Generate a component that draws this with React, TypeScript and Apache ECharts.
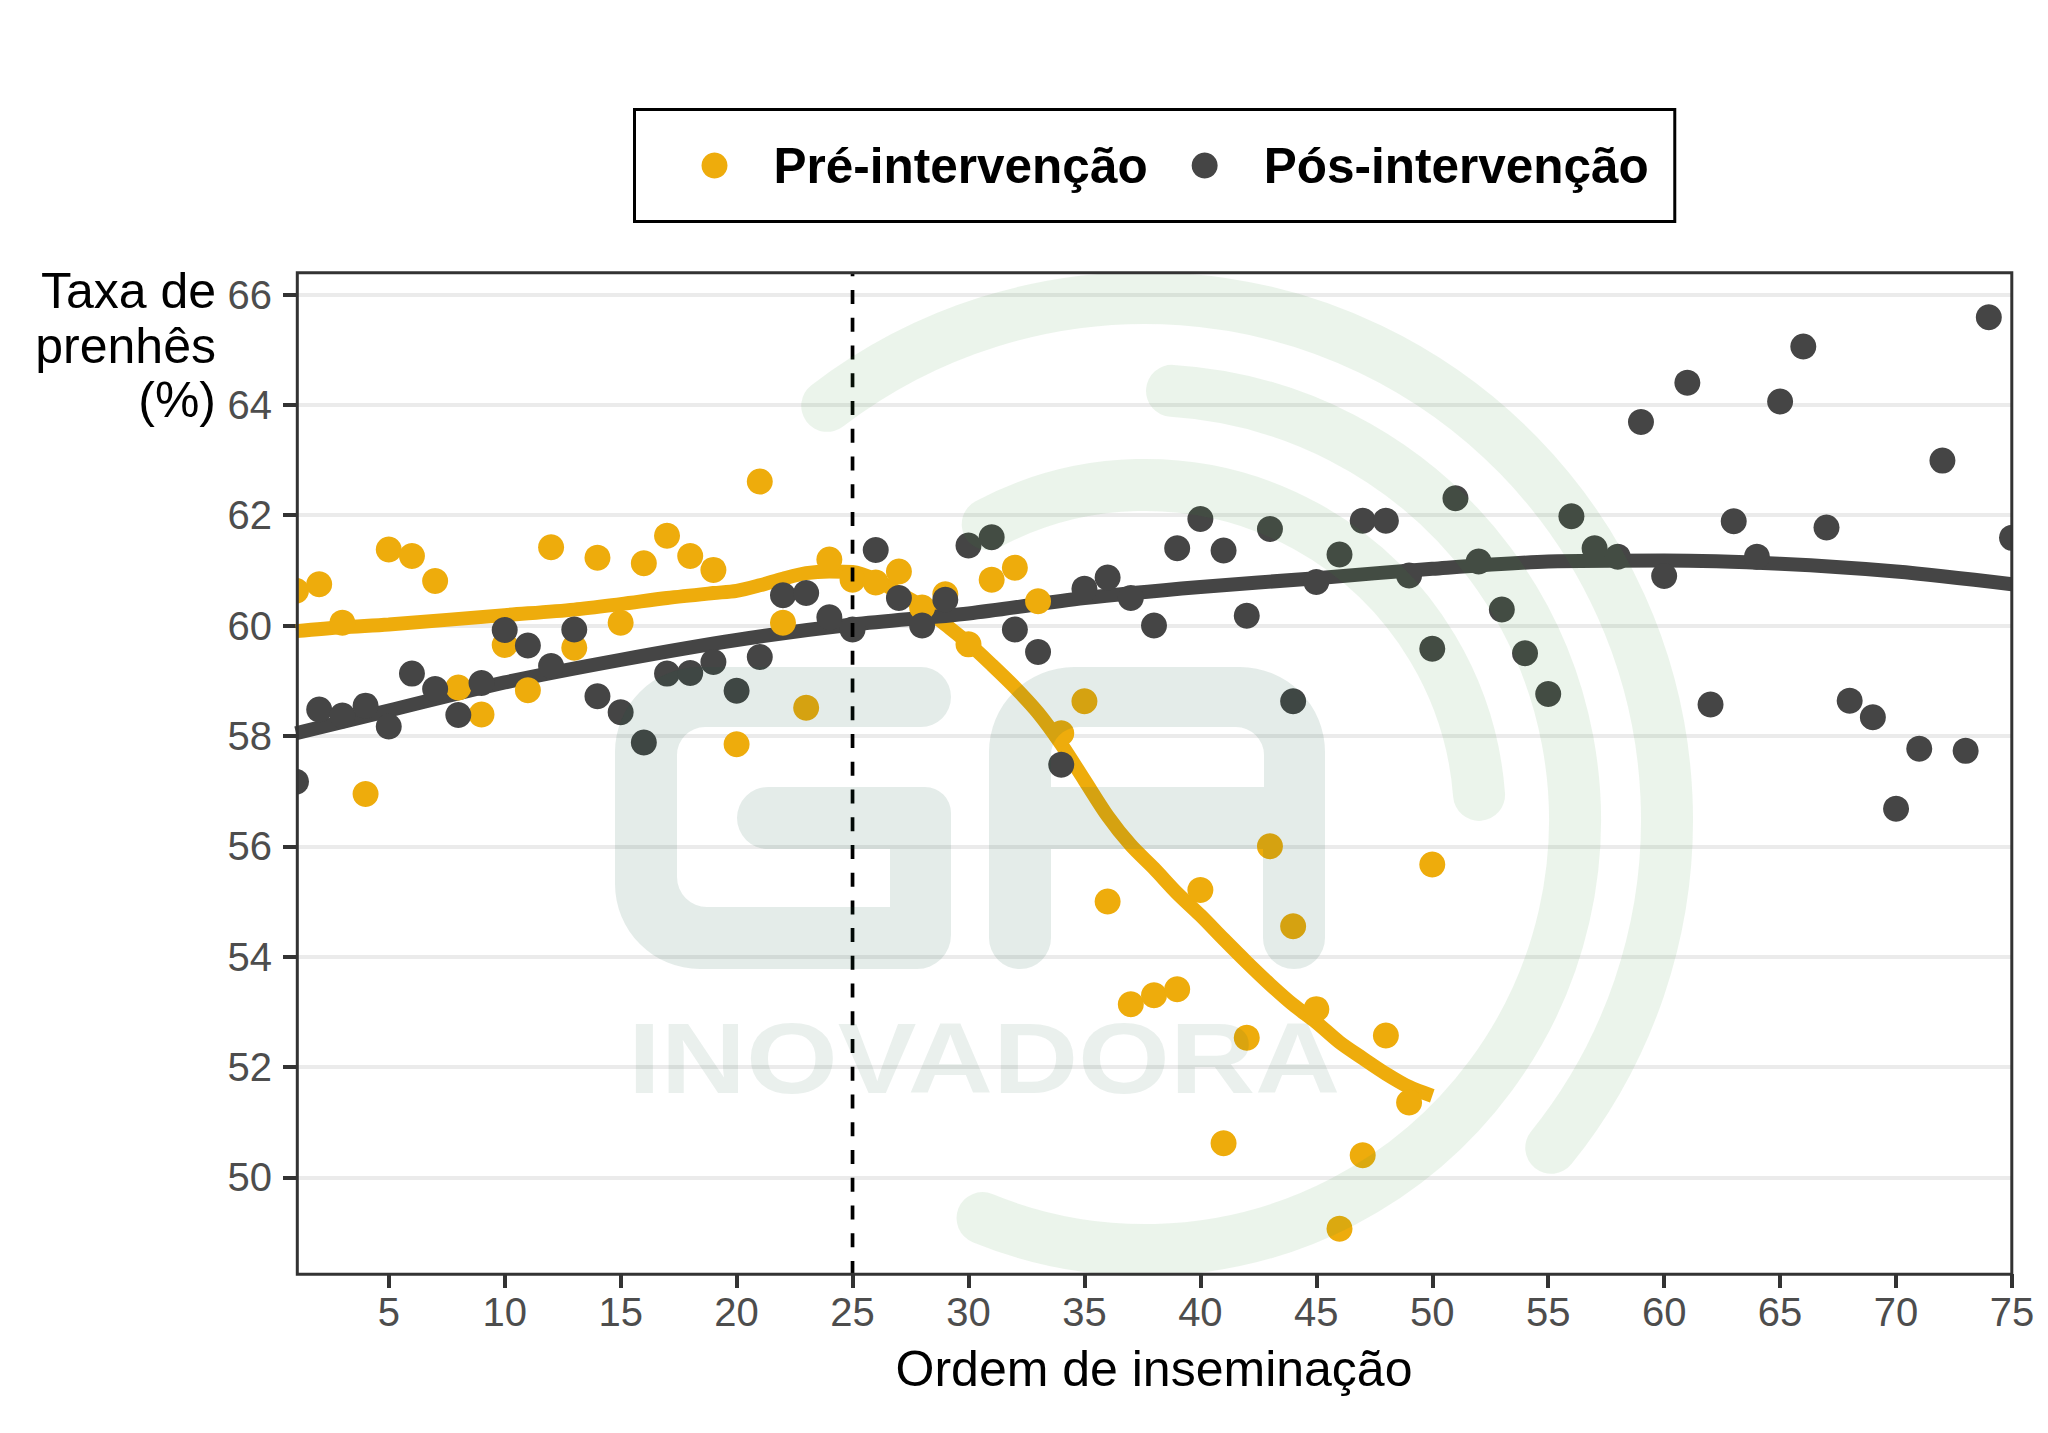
import React, { useEffect, useRef } from "react";
import * as echarts from "echarts";

const preValues = [60.63, 60.75, 60.05, 56.95, 61.38, 61.26, 60.81, 58.88, 58.39, 59.65, 58.83, 61.42, 59.6, 61.23, 60.05, 61.13, 61.63, 61.26, 61.01, 57.85, 62.61, 60.05, 58.51, 61.2, 60.83, 60.78, 60.98, 60.33, 60.57, 59.66, 60.83, 61.05, 60.44, 58.05, 58.63, 55.0, 53.14, 53.3, 53.41, 55.21, 50.62, 52.53, 56.0, 54.55, 53.05, 49.07, 50.4, 52.57, 51.36, 55.67];
const postValues = [57.17, 58.48, 58.37, 58.55, 58.17, 59.13, 58.85, 58.38, 58.96, 59.92, 59.64, 59.27, 59.93, 58.72, 58.43, 57.88, 59.13, 59.14, 59.34, 58.82, 59.43, 60.55, 60.59, 60.15, 59.93, 61.37, 60.5, 60.0, 60.47, 61.45, 61.6, 59.93, 59.52, 57.48, 60.67, 60.87, 60.5, 60.0, 61.4, 61.93, 61.36, 60.18, 61.75, 58.63, 60.79, 61.29, 61.9, 61.9, 60.91, 59.58, 62.31, 61.16, 60.29, 59.5, 58.76, 61.98, 61.4, 61.25, 63.69, 60.9, 64.4, 58.57, 61.89, 61.25, 64.06, 65.06, 61.78, 58.64, 58.34, 56.68, 57.77, 62.99, 57.73, 65.59, 61.59];
const preSmoothX = [1, 3, 5, 10, 13, 15, 17, 19, 20, 21, 22, 23, 24, 25, 26, 27, 28, 29, 30, 31, 32, 33, 34, 35, 36, 37, 38, 39, 40, 41, 42, 43, 44, 45, 46, 47, 48, 49, 50];
const preSmoothY = [59.9, 59.97, 60.02, 60.19, 60.29, 60.39, 60.5, 60.59, 60.63, 60.73, 60.85, 60.95, 60.98, 60.97, 60.83, 60.59, 60.35, 60.02, 59.68, 59.29, 58.88, 58.42, 57.85, 57.2, 56.55, 56.02, 55.6, 55.15, 54.75, 54.32, 53.9, 53.5, 53.13, 52.81, 52.45, 52.16, 51.88, 51.64, 51.48];
const postSmoothX = [1, 5, 10, 15, 20, 25, 30, 35, 40, 45, 50, 55, 60, 65, 70, 75];
const postSmoothY = [58.05, 58.46, 58.97, 59.38, 59.74, 60.02, 60.22, 60.5, 60.7, 60.86, 61.03, 61.16, 61.18, 61.12, 60.98, 60.75];
const xTicks = [5, 10, 15, 20, 25, 30, 35, 40, 45, 50, 55, 60, 65, 70, 75];
const yTicks = [50, 52, 54, 56, 58, 60, 62, 64, 66];
const xRange = [1, 75];
const yRange = [48.25, 66.39];
const interventionOrder = 25;
const preName = "Pré-intervenção";
const postName = "Pós-intervenção";
const xTitle = "Ordem de inseminação";
const yTitle = "Taxa de\nprenhês\n(%)";

const ORANGE = "#EEAC0C";
const DARK = "#454545";
const FONT = "Liberation Sans";
const ARC = "rgba(60,150,60,0.1)";
const LOGO = "rgba(20,90,60,0.115)";

const G_PATH = "M 700 667 L 921 667 A 30 30 0 0 1 921 727 L 705 727 A 28 28 0 0 0 677 755 L 677 877 A 30 30 0 0 0 707 907 L 890 907 L 890 849 L 768 849 A 31 31 0 0 1 768 787 L 925 787 A 26 26 0 0 1 951 813 L 951 935 A 34 34 0 0 1 917 969 L 700 969 A 85 85 0 0 1 615 884 L 615 752 A 85 85 0 0 1 700 667 Z";
const A_PATH = "M 1074 667 L 1240 667 A 85 85 0 0 1 1325 752 L 1325 938 A 31 31 0 0 1 1263 938 L 1263 849 L 1051 849 L 1051 938 A 31 31 0 0 1 989 938 L 989 752 A 85 85 0 0 1 1074 667 Z M 1051 787 L 1264 787 L 1264 755 A 28 28 0 0 0 1236 727 L 1079 727 A 28 28 0 0 0 1051 755 Z";

function arcEl(r: number, a0: number, a1: number) {
  return {
    type: "arc",
    z: 6,
    silent: true,
    shape: { cx: 1145, cy: 820, r, startAngle: (a0 * Math.PI) / 180, endAngle: (a1 * Math.PI) / 180, clockwise: true },
    style: { fill: "none", stroke: ARC, lineWidth: 52, lineCap: "round" },
  };
}

export default function App() {
  const ref = useRef<HTMLDivElement>(null);
  useEffect(() => {
    document.body.style.margin = "0";
    echarts.graphic.registerShape("logoG", echarts.graphic.extendPath(G_PATH, {}));
    echarts.graphic.registerShape("logoA", echarts.graphic.extendPath(A_PATH, {}));
    const chart = echarts.init(ref.current!, null, { renderer: "svg" });
    chart.setOption({
      animation: false,
      backgroundColor: "#fff",
      grid: { left: 296, right: 2048 - 2012, top: 273, bottom: 1433 - 1274, containLabel: false },
      legend: {
        show: true,
        left: 634.5,
        top: 109.5,
        orient: "horizontal",
        data: [
          { name: preName, icon: "circle" },
          { name: postName, icon: "circle" },
        ],
        itemWidth: 26,
        itemHeight: 26,
        itemGap: 44,
        padding: [28, 26, 28, 67],
        borderColor: "#000",
        borderWidth: 3,
        borderRadius: 0,
        backgroundColor: "#fff",
        selectedMode: false,
        textStyle: { fontFamily: FONT, fontWeight: "bold", fontSize: 49.5, color: "#000", lineHeight: 56, padding: [0, 0, 0, 41] },
      },
      xAxis: {
        type: "value",
        min: xRange[0],
        max: xRange[1],
        name: xTitle,
        nameLocation: "middle",
        nameGap: 70,
        nameTextStyle: { fontFamily: FONT, fontSize: 50, color: "#000" },
        axisLine: { show: false },
        axisTick: { show: true, length: 14, lineStyle: { color: "#333", width: 4 }, customValues: xTicks },
        axisLabel: { show: true, customValues: xTicks, fontFamily: FONT, fontSize: 40, color: "#4d4d4d", margin: 18, hideOverlap: false, showMinLabel: true, showMaxLabel: true },
        splitLine: { show: false },
      },
      yAxis: {
        type: "value",
        min: yRange[0],
        max: yRange[1],
        offset: -1,
        name: yTitle,
        nameLocation: "end",
        nameGap: 9,
        nameMoveOverlap: false,
        nameTextStyle: { fontFamily: FONT, fontSize: 50, color: "#000", align: "right", verticalAlign: "top", lineHeight: 54.5, padding: [0, 81, 0, 0] },
        axisLine: { show: false },
        axisTick: { show: true, length: 14, lineStyle: { color: "#333", width: 4 }, customValues: yTicks },
        axisLabel: { show: true, customValues: yTicks, fontFamily: FONT, fontSize: 40, color: "#4d4d4d", margin: 25 },
        splitLine: { show: true, lineStyle: { color: "#ebebeb", width: 4 } },
      },
      series: [
        { name: preName, type: "scatter", z: 3, symbol: "circle", symbolSize: 26, itemStyle: { color: ORANGE, opacity: 1 }, silent: true, data: preValues.map((v, i) => [i + 1, v]) },
        { name: postName, type: "scatter", z: 3, symbol: "circle", symbolSize: 26, itemStyle: { color: DARK, opacity: 1 }, silent: true, data: postValues.map((v, i) => [i + 1, v]) },
        { name: "Tendência pré", type: "line", z: 3, showSymbol: false, smooth: 0.3, silent: true, lineStyle: { color: ORANGE, width: 14, cap: "butt" }, data: preSmoothX.map((x, i) => [x, preSmoothY[i]]) },
        { name: "Tendência pós", type: "line", z: 3, showSymbol: false, smooth: 0.3, silent: true, lineStyle: { color: DARK, width: 14, cap: "butt" }, data: postSmoothX.map((x, i) => [x, postSmoothY[i]]) },
        { name: "Intervenção", type: "line", z: 4, showSymbol: false, silent: true, lineStyle: { color: "#000", width: 3.7, type: [14, 13.74], dashOffset: 1 }, data: [[interventionOrder, yRange[0]], [interventionOrder, yRange[1]]] },
      ],
      graphic: {
        elements: [
          { type: "rect", z: 5, silent: true, shape: { x: 282, y: 575, width: 15, height: 32 }, style: { fill: "#fff" } },
          { type: "rect", z: 5, silent: true, shape: { x: 282, y: 766, width: 15, height: 32 }, style: { fill: "#fff" } },
          { type: "rect", z: 5, silent: true, shape: { x: 2012, y: 520, width: 16, height: 36 }, style: { fill: "#fff" } },
          arcEl(522, 232.5, 398.9),
          arcEl(430, 273.6, 472.2),
          arcEl(335, 242, 355.7),
          { type: "logoG", z: 6, silent: true, style: { fill: LOGO } },
          { type: "logoA", z: 6, silent: true, style: { fill: LOGO } },
          { type: "text", z: 6, silent: true, x: 628, y: 1058, scaleX: 1.18, style: { text: "INOVADORA", font: `bold 100px "${FONT}"`, fill: "rgba(20,90,60,0.09)", textAlign: "left", textVerticalAlign: "middle" } },
          { type: "rect", z: 8, silent: true, shape: { x: 297.3, y: 272.7, width: 1714.5, height: 1001.5 }, style: { fill: "none", stroke: "#333", lineWidth: 3 } },
        ],
      },
    });
    return () => chart.dispose();
  }, []);
  return <div ref={ref} style={{ position: "absolute", left: 0, top: 0, width: 2048, height: 1433 }} />;
}
